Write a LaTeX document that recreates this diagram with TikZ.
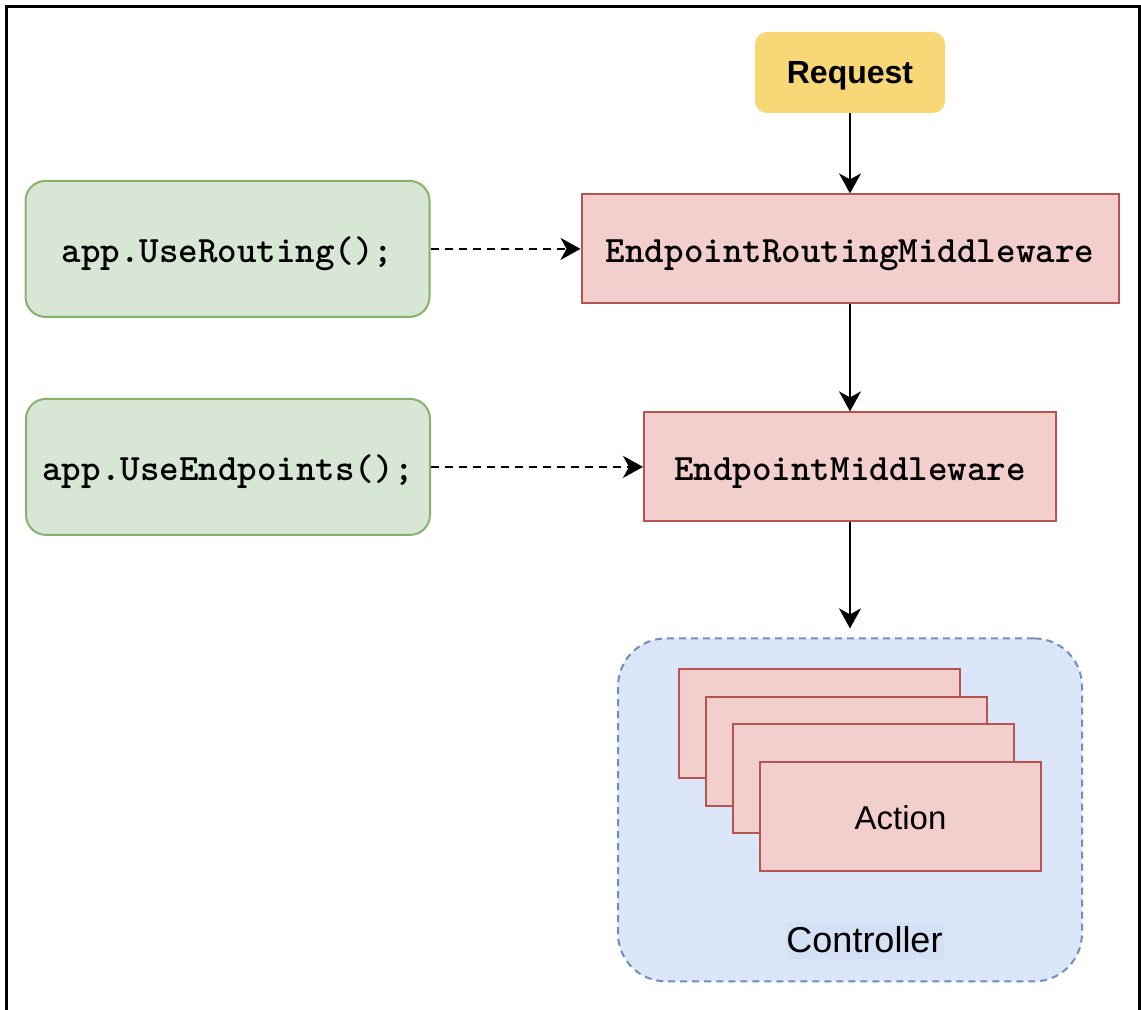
\documentclass[tikz,border=0pt]{standalone}
\usepackage{fontspec}
\setmainfont{Liberation Sans}
\usetikzlibrary{positioning,arrows.meta}
\definecolor{reqfill}{RGB}{248,216,118}
\definecolor{redfill}{RGB}{242,206,204}
\definecolor{reddraw}{RGB}{184,84,80}
\definecolor{greenfill}{RGB}{215,230,213}
\definecolor{greendraw}{RGB}{135,178,107}
\definecolor{bluefill}{RGB}{219,231,249}
\definecolor{bluedraw}{RGB}{110,142,191}
\definecolor{labelfill}{RGB}{212,225,245}
\newcommand{\codefont}{\ttfamily\bfseries\fontsize{18.6}{21}\selectfont}

\begin{document}
\begin{tikzpicture}[x=0.5pt, y=-0.5pt,
  mw/.style={draw=reddraw, fill=redfill, line width=1pt, inner sep=0pt,
    minimum height=54.5pt, text height=14pt, text depth=0pt, font=\codefont},
  call/.style={draw=greendraw, fill=greenfill, line width=1pt, rounded corners=10pt,
    minimum width=202pt, minimum height=68pt, inner sep=0pt,
    text height=14pt, text depth=0pt, font=\codefont},
  card/.style={draw=reddraw, fill=redfill, line width=1pt, inner sep=0pt,
    minimum width=140.5pt, minimum height=54.5pt, text height=12.5pt, text depth=0pt,
    font=\fontsize{16.5}{19}\selectfont},
  flow/.style={line width=1pt, -{Stealth[length=10pt, width=11pt, inset=3pt]}},
  uses/.style={flow, dash pattern=on 4pt off 3pt}]
  \useasboundingbox (0,0) rectangle (1141,1010);
  \draw[line width=1.5pt] (6,1012) -- (6,7) -- (1139,7) -- (1139,1012);

  \node [fill=reqfill, rounded corners=6pt, minimum width=95pt, minimum height=40.5pt,
    inner sep=0pt, text height=10.8pt, text depth=0pt,
    font=\bfseries\fontsize{16}{19}\selectfont] (req) at (850,72.5) {Request};
  \node [mw, minimum width=268.5pt, below=40pt of req] (erm) {EndpointRoutingMiddleware};
  \node [mw, minimum width=206pt, below=53.5pt of erm] (em) {EndpointMiddleware};

  \node [call, left=75pt of erm] (routing) {app.UseRouting();};
  \node [call, left=106pt of em] (endpoints) {app.UseEndpoints();};

  \node [draw=bluedraw, fill=bluefill, line width=1pt, dash pattern=on 3.5pt off 2.5pt,
    rounded corners=24pt, minimum width=232pt, minimum height=171.5pt,
    below=57.5pt of em] (ctrl) {};

  % stacked actions
  \foreach \i/\x/\y in {1/819/723.5, 2/846.5/751, 3/873.5/778.5}
    \node [card] (a\i) at (\x,\y) {};
  \node [card] (act) at (900.5,816.5) {Action};
  \node [fill=labelfill, inner xsep=0.5pt, inner ysep=3.5pt, text height=11.5pt,
    text depth=0pt, font=\fontsize{18}{21}\selectfont] (cl) at (864.5,940.5) {Controller};

  \draw[flow] (req) -- (erm);
  \draw[flow] (erm) -- (em);
  \draw[flow, shorten >=4.5pt] (em) -- (ctrl);
  \draw[uses] (routing) -- (erm);
  \draw[uses] (endpoints) -- (em);
\end{tikzpicture}
\end{document}
